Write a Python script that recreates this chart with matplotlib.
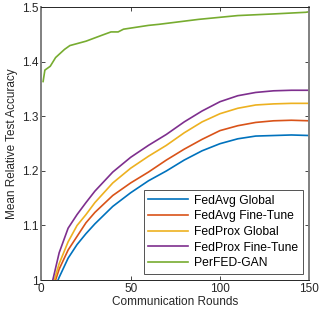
import numpy as np
import matplotlib
matplotlib.use('Agg')
import matplotlib.pyplot as plt

plt.rcParams['font.family'] = ['Liberation Sans', 'DejaVu Sans']

rounds = [5, 10, 15, 20, 25, 30, 40, 50, 60, 70, 80, 90, 100, 110, 120, 130, 140, 150]
fedavg_global = [0.965, 1.005, 1.04, 1.065, 1.085, 1.103, 1.135, 1.16, 1.182, 1.2,
                 1.22, 1.237, 1.25, 1.259, 1.264, 1.265, 1.266, 1.265]
fedavg_ft = [0.97, 1.02, 1.055, 1.08, 1.105, 1.124, 1.155, 1.178, 1.198, 1.22,
             1.24, 1.258, 1.274, 1.283, 1.289, 1.292, 1.293, 1.292]
fedprox_global = [0.975, 1.03, 1.07, 1.10, 1.12, 1.142, 1.178, 1.205, 1.227, 1.247,
                  1.27, 1.29, 1.305, 1.315, 1.321, 1.323, 1.324, 1.324]
fedprox_ft = [0.98, 1.05, 1.095, 1.12, 1.142, 1.163, 1.198, 1.225, 1.247, 1.267,
              1.29, 1.31, 1.327, 1.338, 1.344, 1.347, 1.348, 1.348]

gan_rounds = [1, 2, 5, 8, 13, 16, 25, 34, 39, 43, 46, 60, 66, 88, 110, 130, 148, 150]
perfed_gan = [1.364, 1.385, 1.392, 1.408, 1.423, 1.43, 1.438, 1.449, 1.455, 1.455,
              1.46, 1.467, 1.469, 1.478, 1.485, 1.488, 1.491, 1.492]

labels = ['FedAvg Global', 'FedAvg Fine-Tune', 'FedProx Global', 'FedProx Fine-Tune', 'PerFED-GAN']
colors = ['#0072BD', '#D95319', '#EDB120', '#7E2F8E', '#77AC30']

fig = plt.figure(figsize=(3.19, 3.13), dpi=100)
ax = fig.add_axes([0.1295, 0.1054, 0.840, 0.871])

series = [fedavg_global, fedavg_ft, fedprox_global, fedprox_ft]
for vals, lab, c in zip(series, labels[:4], colors[:4]):
    ax.plot(rounds, vals, color=c, lw=1.2, label=lab)
ax.plot(gan_rounds, perfed_gan, color=colors[4], lw=1.2, label=labels[4])

ax.set_xlim(0, 150)
ax.set_ylim(1, 1.5)
ax.set_xticks([0, 50, 100, 150])
ax.set_yticks([1, 1.1, 1.2, 1.3, 1.4, 1.5])
ax.set_yticklabels(['1', '1.1', '1.2', '1.3', '1.4', '1.5'])
ax.tick_params(direction='in', length=3, width=0.6, labelsize=8.5, colors='#262626',
               top=True, right=True, pad=2)
for s in ['top', 'bottom']:
    ax.spines[s].set_color('#262626')
    ax.spines[s].set_linewidth(0.7)
for s in ['left', 'right']:
    ax.spines[s].set_color('#808080')
    ax.spines[s].set_linewidth(1.4)

ax.set_xlabel('Communication Rounds', fontsize=8.5, color='#262626', labelpad=1)
ax.set_ylabel('Mean Relative Test Accuracy', fontsize=8.5, color='#262626', labelpad=3)

leg = ax.legend(loc='lower right', fontsize=8.7, frameon=True, fancybox=False,
                borderaxespad=0.5, handlelength=3.3, labelspacing=0.3, borderpad=0.4,
                handletextpad=0.5)
leg.get_frame().set_edgecolor('#262626')
leg.get_frame().set_linewidth(0.7)

fig.savefig('out.png', dpi=100)
